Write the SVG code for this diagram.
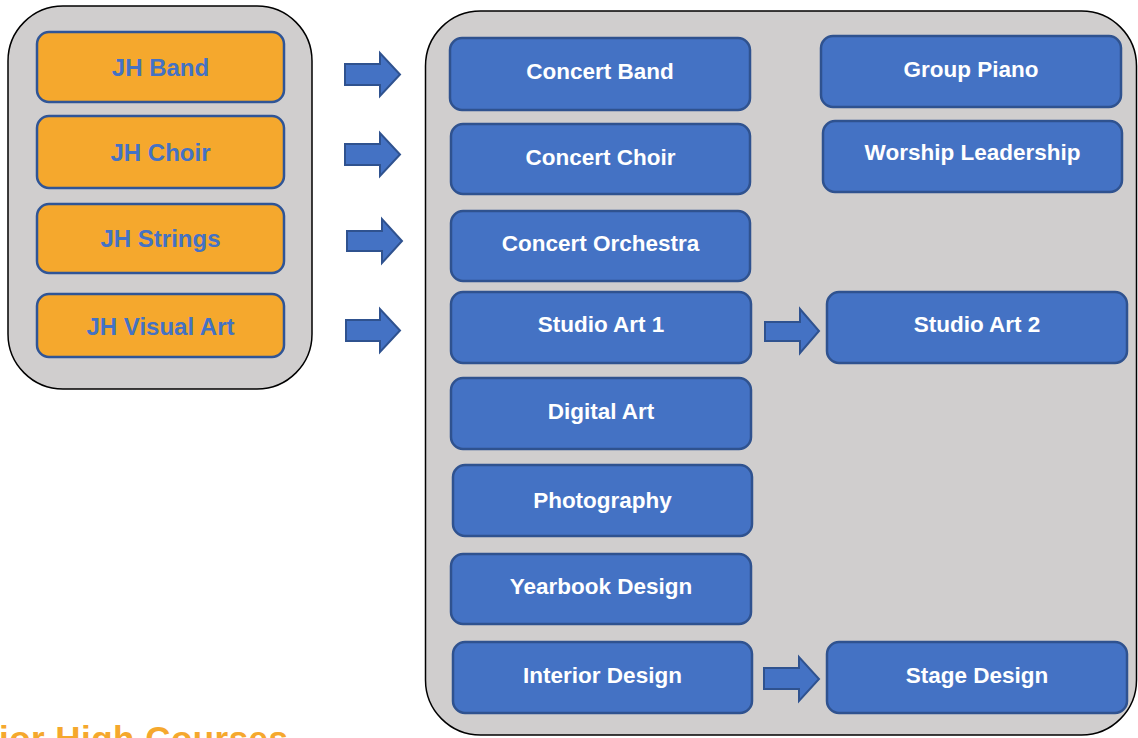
<svg xmlns="http://www.w3.org/2000/svg" width="1138" height="738" viewBox="0 0 1138 738">
<style>
.container{fill:#D0CECE;stroke:#000;stroke-width:1.5}
.jh{fill:#F5A82D;stroke:#2F5597;stroke-width:2.5}
.hs{fill:#4472C4;stroke:#2F528F;stroke-width:2.5}
.arrow{fill:#4472C4;stroke:#2F528F;stroke-width:2;stroke-linejoin:miter}
.t{font-family:"Liberation Sans",Arial,sans-serif;font-weight:bold;text-anchor:middle}
.tj{fill:#4472C4;font-size:24px}
.th{fill:#FFFFFF;font-size:22.5px}
.title{font-family:"Liberation Sans",Arial,sans-serif;font-weight:bold;font-size:35px;fill:#F5A82D}
</style>
<rect width="1138" height="738" fill="#FFFFFF"/>
<g id="jh-container"><rect class="container" x="8" y="6" width="304" height="383" rx="55" ry="55"/></g>
<g id="hs-container"><rect class="container" x="425.5" y="11" width="711" height="724" rx="55" ry="55"/></g>

<g id="jh-band"><rect class="jh" x="37" y="32" width="247" height="70" rx="12"/><text class="t tj" x="160.5" y="75.5">JH Band</text></g>
<g id="jh-choir"><rect class="jh" x="37" y="116" width="247" height="72" rx="12"/><text class="t tj" x="160.5" y="160.5">JH Choir</text></g>
<g id="jh-strings"><rect class="jh" x="37" y="204" width="247" height="69" rx="12"/><text class="t tj" x="160.5" y="247">JH Strings</text></g>
<g id="jh-visual-art"><rect class="jh" x="37" y="294" width="247" height="63" rx="12"/><text class="t tj" x="160.5" y="335">JH Visual Art</text></g>

<g id="concert-band"><rect class="hs" x="450" y="38" width="300" height="72" rx="12"/><text class="t th" x="600" y="78.5">Concert Band</text></g>
<g id="concert-choir"><rect class="hs" x="451" y="124" width="299" height="70" rx="12"/><text class="t th" x="600.5" y="165">Concert Choir</text></g>
<g id="concert-orchestra"><rect class="hs" x="451" y="211" width="299" height="70" rx="12"/><text class="t th" x="600.5" y="251">Concert Orchestra</text></g>
<g id="studio-art-1"><rect class="hs" x="451" y="292" width="300" height="71" rx="12"/><text class="t th" x="601" y="332">Studio Art 1</text></g>
<g id="digital-art"><rect class="hs" x="451" y="378" width="300" height="71" rx="12"/><text class="t th" x="601" y="419">Digital Art</text></g>
<g id="photography"><rect class="hs" x="453" y="465" width="299" height="71" rx="12"/><text class="t th" x="602.5" y="508">Photography</text></g>
<g id="yearbook-design"><rect class="hs" x="451" y="554" width="300" height="70" rx="12"/><text class="t th" x="601" y="594">Yearbook Design</text></g>
<g id="interior-design"><rect class="hs" x="453" y="642" width="299" height="71" rx="12"/><text class="t th" x="602.5" y="683">Interior Design</text></g>
<g id="group-piano"><rect class="hs" x="821" y="36" width="300" height="71" rx="12"/><text class="t th" x="971" y="77">Group Piano</text></g>
<g id="worship-leadership"><rect class="hs" x="823" y="121" width="299" height="71" rx="12"/><text class="t th" x="972.5" y="160">Worship Leadership</text></g>
<g id="studio-art-2"><rect class="hs" x="827" y="292" width="300" height="71" rx="12"/><text class="t th" x="977" y="332">Studio Art 2</text></g>
<g id="stage-design"><rect class="hs" x="827" y="642" width="300" height="71" rx="12"/><text class="t th" x="977" y="683">Stage Design</text></g>

<g id="connectors">
<polygon class="arrow" points="345,64 380,64 380,53 400,74.5 380,96 380,85 345,85"/>
<polygon class="arrow" points="345,144 380,144 380,133 400,154.5 380,176 380,165 345,165"/>
<polygon class="arrow" points="347,231 382,231 382,219 402,241 382,263 382,251 347,251"/>
<polygon class="arrow" points="346,320 380,320 380,309 400,330.5 380,352 380,341 346,341"/>
<polygon class="arrow" points="765,322 800,322 800,309 819,331 800,353 800,341 765,341"/>
<polygon class="arrow" points="764,668 799,668 799,657 819,679 799,701 799,689 764,689"/>
</g>

<text class="title" x="-1" y="751" textLength="289" lengthAdjust="spacing">ior High Courses</text>
</svg>
